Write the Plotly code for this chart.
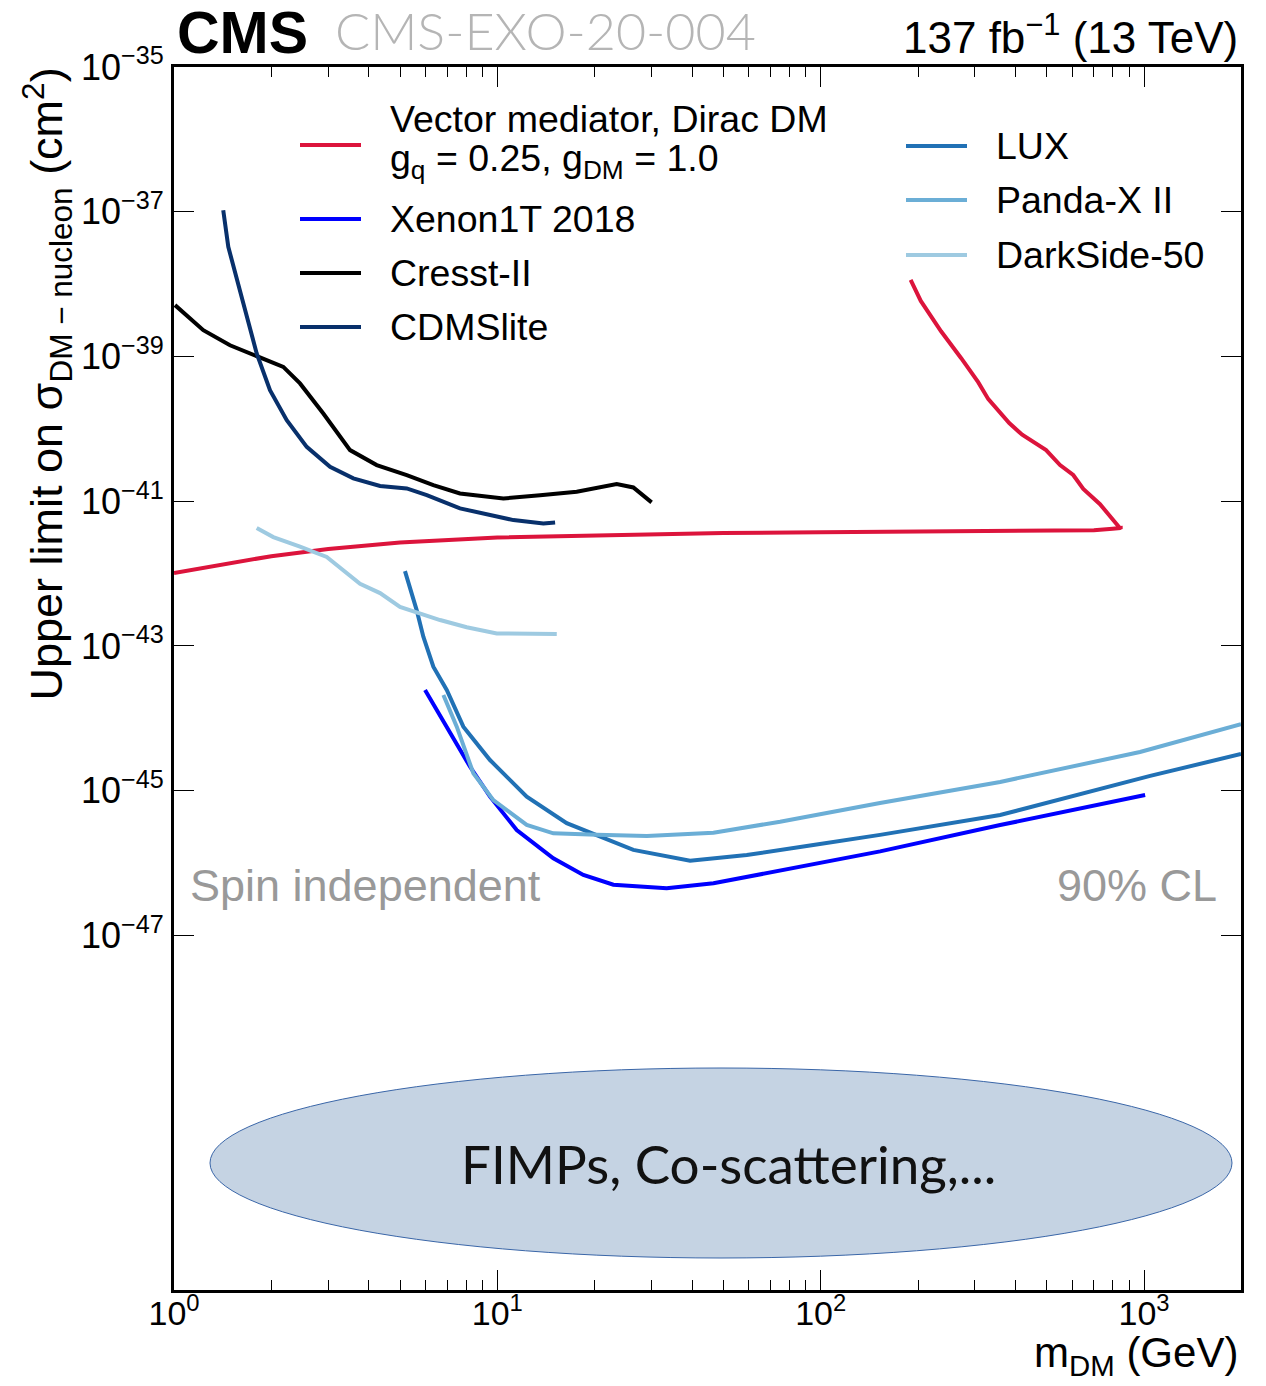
import plotly.graph_objects as go

# ---------------- data ----------------
vec_m = [1.0, 1.5, 2.0, 3.0, 5.0, 10, 20, 50, 100, 200, 500, 700, 800, 847,
         847, 731, 649, 604, 550, 498, 420, 383, 330, 307, 272, 235.7, 204, 189.8]
vec_s = [1.02e-42, 1.38e-42, 1.74e-42, 2.19e-42, 2.69e-42, 3.16e-42, 3.39e-42, 3.63e-42,
         3.72e-42, 3.80e-42, 3.89e-42, 3.98e-42, 4.17e-42, 4.27e-42,
         4.12e-42, 9.1e-42, 1.48e-41, 2.30e-41, 3.16e-41, 5.08e-41, 8.28e-41, 1.20e-40,
         2.57e-40, 4.42e-40, 9.46e-40, 2.23e-39, 5.85e-39, 1.14e-38]

xenon_m = [5.976, 6.975, 8.235, 9.494, 11.48, 14.90, 18.45, 22.85, 33.4, 46.6, 74.9, 152.7, 359, 843, 1008]
xenon_s = [2.46e-44, 7.66e-45, 2.14e-45, 8.26e-46, 2.86e-46, 1.16e-46, 6.86e-47, 5.01e-47,
           4.47e-47, 5.25e-47, 7.94e-47, 1.45e-46, 3.35e-46, 7.41e-46, 8.71e-46]

cresst_m = [1.007, 1.232, 1.49, 1.845, 2.178, 2.453, 2.896, 3.503, 4.236, 5.246, 6.34, 7.665,
            10.44, 13.56, 17.6, 23.4, 26.34, 30.0]
cresst_s = [5.13e-39, 2.31e-39, 1.43e-39, 9.86e-40, 7.18e-40, 4.24e-40, 1.63e-40, 5.08e-41,
            3.16e-41, 2.29e-41, 1.67e-41, 1.28e-41, 1.09e-41, 1.21e-41, 1.35e-41, 1.72e-41,
            1.55e-41, 9.64e-42]

cdms_m = [1.42, 1.472, 1.639, 1.802, 1.981, 2.232, 2.573, 3.038, 3.586, 4.338, 5.246, 6.05,
          7.665, 11.21, 13.88, 15.09]
cdms_s = [1.05e-37, 3.27e-38, 5.40e-39, 1.10e-39, 3.42e-40, 1.32e-40, 5.64e-41, 2.99e-41,
          2.07e-41, 1.62e-41, 1.50e-41, 1.21e-41, 7.96e-42, 5.48e-42, 4.93e-42, 5.09e-42]

lux_m = [5.18, 5.63, 5.904, 6.34, 6.975, 7.85, 9.49, 12.33, 16.39, 26.34, 39.45, 59.08, 94.9,
         152.6, 359, 1045, 1995]
lux_s = [1.08e-42, 3.13e-43, 1.34e-43, 5.16e-44, 2.46e-44, 7.66e-45, 2.65e-45, 8.26e-46,
         3.55e-46, 1.52e-46, 1.08e-46, 1.29e-46, 1.78e-46, 2.45e-46, 4.61e-46, 1.60e-45,
         3.21e-45]

panda_m = [6.81, 7.49, 8.43, 9.72, 12.33, 14.9, 20.3, 29.0, 46.6, 74.9, 152.6, 359, 972, 1995]
panda_s = [2.10e-44, 7.66e-45, 1.74e-45, 7.41e-46, 3.36e-46, 2.57e-46, 2.45e-46, 2.37e-46,
           2.63e-46, 3.72e-46, 6.76e-46, 1.32e-45, 3.42e-45, 8.32e-45]

ds_m = [1.802, 2.028, 2.453, 2.967, 3.762, 4.338, 5.0, 6.65, 8.04, 9.96, 15.27]
ds_s = [4.27e-42, 3.19e-42, 2.36e-42, 1.70e-42, 7.21e-43, 5.37e-43, 3.47e-43, 2.28e-43,
        1.81e-43, 1.49e-43, 1.46e-43]

series = [
    ("Vector mediator, Dirac DM", vec_m, vec_s, "#dc143c"),
    ("Xenon1T 2018", xenon_m, xenon_s, "#0000ff"),
    ("Cresst-II", cresst_m, cresst_s, "#000000"),
    ("CDMSlite", cdms_m, cdms_s, "#08306b"),
    ("LUX", lux_m, lux_s, "#2171b5"),
    ("Panda-X II", panda_m, panda_s, "#6baed6"),
    ("DarkSide-50", ds_m, ds_s, "#9ecae1"),
]

x_tickvals = [1, 10, 100, 1000]
x_ticktext = ["10<sup>0</sup>", "10<sup>1</sup>", "10<sup>2</sup>", "10<sup>3</sup>"]
y_tickvals = [1e-35, 1e-37, 1e-39, 1e-41, 1e-43, 1e-45, 1e-47]
y_ticktext = ["10<sup>\u221235</sup>", "10<sup>\u221237</sup>", "10<sup>\u221239</sup>",
              "10<sup>\u221241</sup>", "10<sup>\u221243</sup>", "10<sup>\u221245</sup>",
              "10<sup>\u221247</sup>"]

# ---------------- layout geometry ----------------
W, H = 1266, 1386
L, R, T, B = 174, 1241, 67, 1290


def px(xp):
    return (xp - L) / (R - L)


def py(yp):
    return (B - yp) / (B - T)


FONT = "Liberation Sans, Arial, Helvetica, sans-serif"

fig = go.Figure()
for name, m, s, c in series:
    fig.add_trace(go.Scatter(x=m, y=s, mode="lines", name=name,
                             line=dict(color=c, width=4), showlegend=False))

annotations = []
shapes = []

# FIMPs ellipse
shapes.append(dict(type="circle", xref="paper", yref="paper",
                   x0=px(210), x1=px(1232), y0=py(1258), y1=py(1068),
                   fillcolor="#c5d3e3", line=dict(color="#3a66a8", width=1), layer="below"))
annotations.append(dict(text="FIMPs, Co-scattering,...", xref="paper", yref="paper",
                        x=px(728), y=py(1163), showarrow=False, xanchor="center", yanchor="middle",
                        font=dict(family="Lato, sans-serif", size=53, color="#111111")))

# legend (manual)
left_items = [(145, "#dc143c"), (219, "#0000ff"), (273, "#000000"), (327, "#08306b")]
right_items = [(146, "#2171b5"), (200, "#6baed6"), (255, "#9ecae1")]
for yy, c in left_items:
    shapes.append(dict(type="line", xref="paper", yref="paper", x0=px(300), x1=px(361),
                       y0=py(yy), y1=py(yy), line=dict(color=c, width=4)))
for yy, c in right_items:
    shapes.append(dict(type="line", xref="paper", yref="paper", x0=px(906), x1=px(967),
                       y0=py(yy), y1=py(yy), line=dict(color=c, width=4)))

leg_font = dict(family=FONT, size=37.5, color="black")
left_texts = [(119, "Vector mediator, Dirac DM"),
              (161, "g<sub>q</sub> = 0.25, g<sub>DM</sub> = 1.0"),
              (219, "Xenon1T 2018"), (273, "Cresst-II"), (327, "CDMSlite")]
for yy, t in left_texts:
    annotations.append(dict(text=t, xref="paper", yref="paper", x=px(388), y=py(yy),
                            showarrow=False, xanchor="left", yanchor="middle", font=leg_font))
right_texts = [(146, "LUX"), (200, "Panda-X II"), (255, "DarkSide-50")]
for yy, t in right_texts:
    annotations.append(dict(text=t, xref="paper", yref="paper", x=px(994), y=py(yy),
                            showarrow=False, xanchor="left", yanchor="middle", font=leg_font))

# header texts
annotations.append(dict(text="<b>CMS</b>", xref="paper", yref="paper", x=px(175), y=py(33),
                        showarrow=False, xanchor="left", yanchor="middle",
                        font=dict(family=FONT, size=59, color="black")))
annotations.append(dict(text="CMS-EXO-20-004", xref="paper", yref="paper", x=px(333), y=py(30),
                        showarrow=False, xanchor="left", yanchor="middle",
                        font=dict(family="Lato, sans-serif", size=52, color="#b5b5b5", weight=300)))
annotations.append(dict(text="137 fb<sup>\u22121</sup> (13 TeV)", xref="paper", yref="paper",
                        x=px(1240), y=py(35), showarrow=False, xanchor="right", yanchor="middle",
                        font=dict(family=FONT, size=44, color="black")))

# in-plot labels
annotations.append(dict(text="Spin independent", xref="paper", yref="paper", x=px(188), y=py(885),
                        showarrow=False, xanchor="left", yanchor="middle",
                        font=dict(family=FONT, size=45, color="#999999")))
annotations.append(dict(text="90% CL", xref="paper", yref="paper", x=px(1219), y=py(885),
                        showarrow=False, xanchor="right", yanchor="middle",
                        font=dict(family=FONT, size=45, color="#999999")))

# axis titles
annotations.append(dict(text="Upper limit on \u03c3<sub>DM \u2212 nucleon</sub> (cm<sup>2</sup>)",
                        xref="paper", yref="paper", x=px(46), y=py(66), textangle=-90,
                        showarrow=False, xanchor="center", yanchor="top",
                        font=dict(family=FONT, size=45, color="black")))
annotations.append(dict(text="m<sub>DM</sub> (GeV)", xref="paper", yref="paper",
                        x=px(1240), y=py(1384), showarrow=False, xanchor="right", yanchor="bottom",
                        font=dict(family=FONT, size=42, color="black")))

fig.update_layout(
    width=W, height=H,
    margin=dict(l=L, r=W - R, t=T, b=H - B, pad=0),
    paper_bgcolor="white", plot_bgcolor="white",
    font=dict(family=FONT, color="black"),
    shapes=shapes, annotations=annotations,
    showlegend=False,
)
fig.update_xaxes(type="log", range=[0, 3.3], showgrid=False, zeroline=False,
                 showline=True, linecolor="black", linewidth=3, mirror="allticks",
                 ticks="inside", ticklen=20, tickwidth=1.2, tickcolor="black",
                 tickvals=x_tickvals, ticktext=x_ticktext, ticklabelstandoff=-9,
                 tickfont=dict(family=FONT, size=34, color="black"),
                 minor=dict(ticks="inside", ticklen=10, tickwidth=1.2, tickcolor="black",
                            dtick="D1", showgrid=False))
fig.update_yaxes(type="log", range=[-51.9, -35], showgrid=False, zeroline=False,
                 showline=True, linecolor="black", linewidth=3, mirror="allticks",
                 ticks="inside", ticklen=20, tickwidth=1.2, tickcolor="black",
                 tickvals=y_tickvals, ticktext=y_ticktext,
                 tickfont=dict(family=FONT, size=36, color="black"))

fig.write_html("out.html", config={"displayModeBar": False},
               post_script="document.body.style.margin='0px';document.body.style.overflow='hidden';")
